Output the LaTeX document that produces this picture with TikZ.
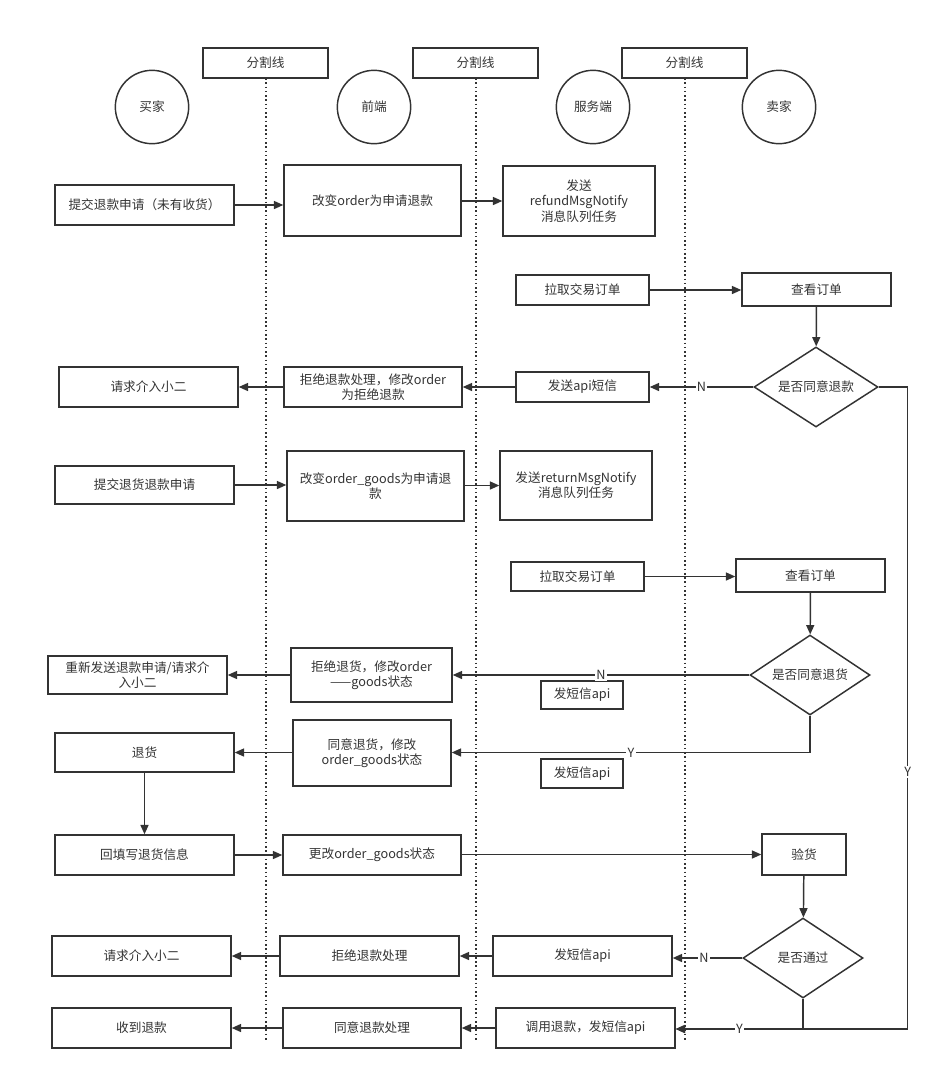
\documentclass[tikz,border=0pt]{standalone}
\usepackage{fontspec}
\setmainfont{Noto Sans CJK SC}
\usetikzlibrary{arrows.meta,shapes.geometric}
\definecolor{ln}{HTML}{333333}
\begin{document}
\begin{tikzpicture}[x=0.75pt,y=-0.75pt,
  every node/.style={font=\fontsize{9.5pt}{11.5pt}\selectfont,text=ln,align=center},
  bx/.style={draw=ln,line width=1.1pt,inner sep=0pt},
  dm/.style={draw=ln,line width=1.1pt,diamond,inner sep=0pt,minimum width=#1,minimum height=60pt,aspect=1.5},
  ar/.style={draw=ln,line width=1.1pt,-{Triangle[length=7pt,width=6pt]}},
  lane/.style={draw=ln,line width=1.2pt,dotted},
  lbl/.style={fill=white,inner sep=1pt}]
\useasboundingbox (0,0) rectangle (938,1079);
\newcommand{\bx}[6]{\node[bx,minimum width={(#4-#2)*0.75pt},minimum height={(#5-#3)*0.75pt}] (#1) at ({(#2+#4)/2},{(#3+#5)/2}) {#6};}
% lanes
\foreach \x/\n in {266/h1,476/h2,685/h3}{
  \coordinate (\n t) at (\x,78); \coordinate (\n b) at (\x,1040);
  \draw[lane] (\n t) -- (\n b);}
\bx{hd1}{203}{48}{328}{78}{分割线}
\bx{hd2}{413}{48}{538}{78}{分割线}
\bx{hd3}{622}{48}{747}{78}{分割线}
\foreach \x/\t/\n in {152/买家/c1,374/前端/c2,593/服务端/c3,779/卖家/c4}
  \node[draw=ln,line width=1.1pt,circle,minimum size=55pt] (\n) at (\x,107) {\t};
% boxes
\bx{b1}{55}{185}{234}{225}{提交退款申请（未有收货）}
\bx{f1}{284}{165}{461}{236}{改变order为申请退款}
\bx{s1}{503}{166}{655}{236}{发送\\refundMsgNotify\\消息队列任务}
\bx{s2}{516}{275}{649}{305}{拉取交易订单}
\bx{k1}{742}{273}{891}{306}{查看订单}
\node[dm=93pt] (d1) at (816,387) {是否同意退款};
\bx{s3}{516}{372}{649}{402}{发送api短信}
\bx{f2}{284}{367}{462}{407}{拒绝退款处理，修改order\\为拒绝退款}
\bx{b2}{59}{367}{238}{407}{请求介入小二}
\bx{b3}{55}{466}{234}{504}{提交退货退款申请}
\bx{f3}{287}{451}{464}{521}{改变order\_goods为申请退\\款}
\bx{s4}{500}{451}{652}{520}{发送returnMsgNotify\\消息队列任务}
\bx{s5}{511}{562}{644}{591}{拉取交易订单}
\bx{k2}{736}{559}{885}{592}{查看订单}
\node[dm=90pt] (d2) at (810,675) {是否同意退货};
\bx{f4}{291}{648}{452}{702}{拒绝退货，修改order\\——goods状态}
\bx{b4}{48}{656}{227}{694}{重新发送退款申请/请求介\\入小二}
\bx{l1}{541}{681}{623}{709}{发短信api}
\bx{f5}{293}{720}{451}{786}{同意退货，修改\\order\_goods状态}
\bx{b5}{55}{733}{234}{772}{退货}
\bx{l2}{541}{759}{623}{788}{发短信api}
\bx{b6}{55}{835}{234}{875}{回填写退货信息}
\bx{f6}{283}{835}{461}{875}{更改order\_goods状态}
\bx{k3}{762}{834}{846}{875}{验货}
\node[dm=90pt] (d3) at (803,958) {是否通过};
\bx{s6}{493}{936}{672}{976}{发短信api}
\bx{f7}{280}{936}{459}{976}{拒绝退款处理}
\bx{b7}{52}{936}{231}{976}{请求介入小二}
\bx{s7}{496}{1008}{675}{1048}{调用退款，发短信api}
\bx{f8}{283}{1008}{461}{1048}{同意退款处理}
\bx{b8}{52}{1008}{231}{1048}{收到退款}
% edges
\draw[ar] (b1) -- (f1.west|-b1);
\draw[ar] (f1.east|-s1) -- (s1);
\draw[ar] (s2) -- (k1.west|-s2);
\draw[ar] (k1) -- (d1);
\draw[ar] (d1) -- node[lbl,pos=0.5]{N} (s3);
\draw[ar] (s3) -- (f2.east|-s3);
\draw[ar] (f2) -- (b2);
\draw[ar] (d1.east) -- ++(29,0) |- node[lbl,pos=0.3]{Y} ([yshift=-0.75pt]s7.east);
\draw[ar] (b3) -- (f3.west|-b3);
\draw[ar] (f3.east|-s4) -- (s4);
\draw[ar] (s5) -- (k2.west|-s5);
\draw[ar] (k2) -- (d2);
\draw[ar] (d2.west) -- node[lbl,pos=0.5]{N} (f4.east|-d2.west);
\draw[ar] (f4.west|-b4) -- (b4);
\draw[ar] (d2.south) |- node[lbl,pos=0.75]{Y} (f5.east|-b5);
\draw[ar] (f5.west|-b5) -- (b5);
\draw[ar] (b5) -- (b6);
\draw[ar] (b6) -- (f6);
\draw[ar] (f6.east|-k3) -- (k3);
\draw[ar] (k3) -- (d3);
\draw[ar] (d3.west) -- node[lbl,pos=0.55]{N} (s6.east|-d3.west);
\draw[ar] (s6) -- (f7);
\draw[ar] (f7) -- (b7);
\draw[ar] (d3.south) |- node[lbl,pos=0.75]{Y} ([yshift=-0.75pt]s7.east);
\draw[ar] (s7) -- (f8);
\draw[ar] (f8) -- (b8);
\end{tikzpicture}
\end{document}
